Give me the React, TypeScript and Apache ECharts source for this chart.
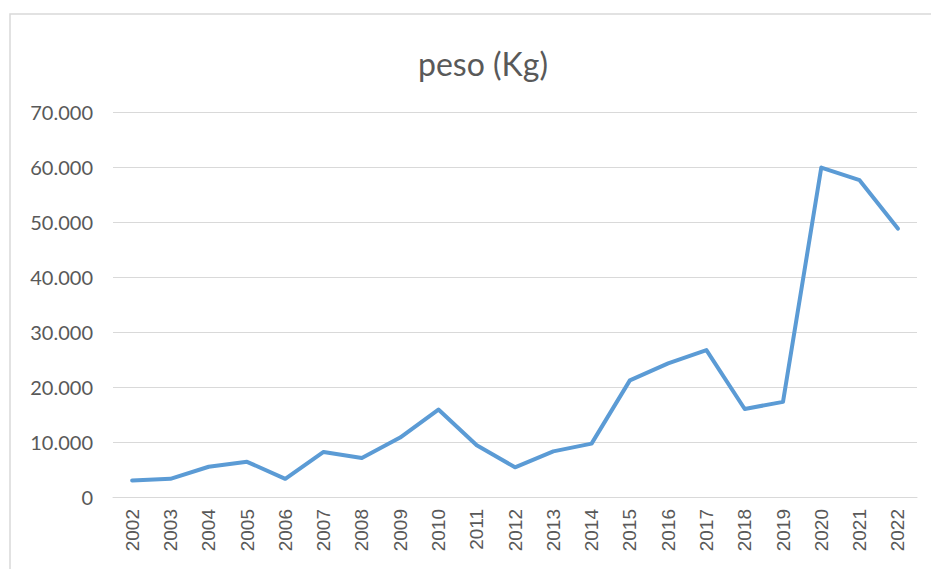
import React, { useEffect, useRef } from "react";
import * as echarts from "echarts";

const years = ["2002","2003","2004","2005","2006","2007","2008","2009","2010","2011","2012","2013","2014","2015","2016","2017","2018","2019","2020","2021","2022"];
const peso = [3000, 3300, 5500, 6400, 3300, 8200, 7100, 10800, 15900, 9400, 5400, 8300, 9700, 21200, 24300, 26700, 16000, 17300, 59900, 57600, 48800];
const titleText = "peso (Kg)";

function fmt(v: number): string {
  if (v === 0) return "0";
  return (v / 1000).toFixed(3);
}

export default function App() {
  const ref = useRef<HTMLDivElement>(null);
  useEffect(() => {
    document.body.style.margin = "0";
    const chart = echarts.init(ref.current!, undefined, { renderer: "svg" });
    const font = "Lato, 'Open Sans', sans-serif";
    chart.setOption({
      animation: false,
      backgroundColor: "#ffffff",
      title: {
        text: titleText,
        left: 478,
        top: 42,
        textAlign: "center",
        textStyle: { fontFamily: font, fontSize: 32, fontWeight: "normal", color: "#595959" },
      },
      graphic: [
        {
          type: "rect",
          shape: { x: 10, y: 14, width: 1000, height: 1000 },
          style: { fill: "none", stroke: "#d9d9d9", lineWidth: 1.5 },
          silent: true,
        },
      ],
      grid: { left: 113, right: 14, top: 112, bottom: 72 },
      xAxis: {
        type: "category",
        data: years,
        boundaryGap: true,
        axisLine: { show: true, lineStyle: { color: "#d9d9d9", width: 1 } },
        axisTick: { show: false },
        axisLabel: { rotate: 90, margin: 12, fontFamily: "'Liberation Sans', Arial, sans-serif", fontSize: 19, color: "#595959", interval: 0 },
      },
      yAxis: {
        type: "value",
        min: 0,
        max: 70000,
        interval: 10000,
        axisLine: { show: false },
        axisTick: { show: false },
        splitLine: { lineStyle: { color: "#d9d9d9", width: 1 } },
        axisLabel: { formatter: fmt, margin: 20, fontFamily: font, fontSize: 20, color: "#595959" },
      },
      series: [
        {
          type: "line",
          data: peso,
          symbol: "none",
          lineStyle: { color: "#5b9bd5", width: 4, join: "round", cap: "round" },
        },
      ],
    });
    return () => chart.dispose();
  }, []);
  return <div ref={ref} style={{ width: 931, height: 569 }} />;
}
